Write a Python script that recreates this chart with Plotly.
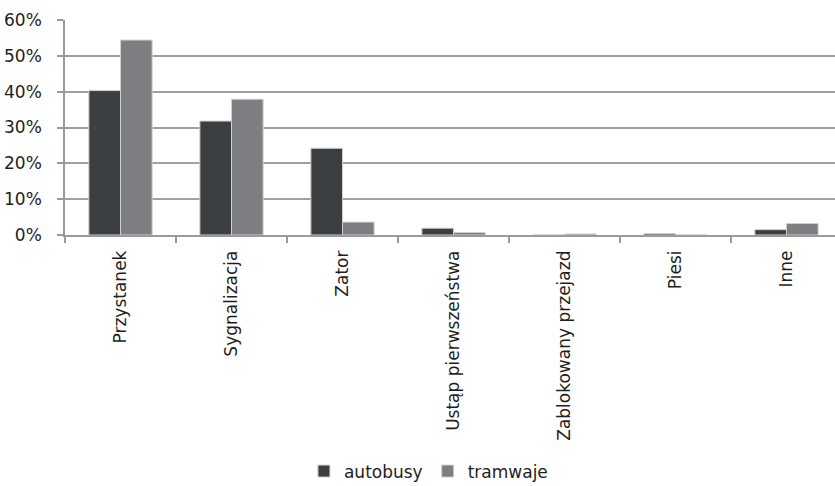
import plotly.graph_objects as go

categories = ["Przystanek", "Sygnalizacja", "Zator", "Ustąp pierwszeństwa",
              "Zablokowany przejazd", "Piesi", "Inne"]
autobusy = [40.3, 31.8, 24.2, 1.9, 0.0, 0.4, 1.5]
tramwaje = [54.4, 37.9, 3.6, 0.7, 0.3, 0.0, 3.2]
y_ticks = [0, 10, 20, 30, 40, 50, 60]
y_tick_labels = ["0%", "10%", "20%", "30%", "40%", "50%", "60%"]

FONT = "DejaVu Sans"
fig = go.Figure()
fig.add_trace(go.Bar(name="autobusy", x=categories, y=autobusy,
                     marker=dict(color="#3c3f42", line=dict(color="#d0d0d0", width=1))))
fig.add_trace(go.Bar(name="tramwaje", x=categories, y=tramwaje,
                     marker=dict(color="#7d7e82", line=dict(color="#d0d0d0", width=1))))

fig.update_layout(
    width=835, height=486,
    margin=dict(l=65, r=0, t=20, b=251, autoexpand=False),
    paper_bgcolor="white", plot_bgcolor="white",
    barmode="group", bargap=0.43, bargroupgap=0,
    font=dict(family=FONT, size=17, color="#1e1e1e"),
    showlegend=True,
    legend=dict(orientation="h", x=0.472, xanchor="center", y=-1.10, yanchor="middle",
                font=dict(size=17), itemwidth=30, traceorder="normal"),
)
fig.update_xaxes(
    range=[-0.5, 6.437], showgrid=False, showline=True, linecolor="#9a9a9a", linewidth=1.5,
    ticks="outside", ticklen=6, tickcolor="#9a9a9a", tickwidth=1.5, automargin=False,
    tickson="boundaries", tickangle=-90, tickfont=dict(size=17), ticklabelstandoff=7,
)
fig.update_yaxes(
    range=[0, 60], tickvals=y_ticks, ticktext=y_tick_labels,
    showgrid=True, gridcolor="#a0a0a0", gridwidth=1.5, automargin=False,
    showline=True, linecolor="#9a9a9a", linewidth=1.5,
    ticks="outside", ticklen=6, tickcolor="#9a9a9a", tickwidth=1.5,
    tickfont=dict(size=17), zeroline=False, ticklabelstandoff=12,
)
fig.write_html("out.html")
